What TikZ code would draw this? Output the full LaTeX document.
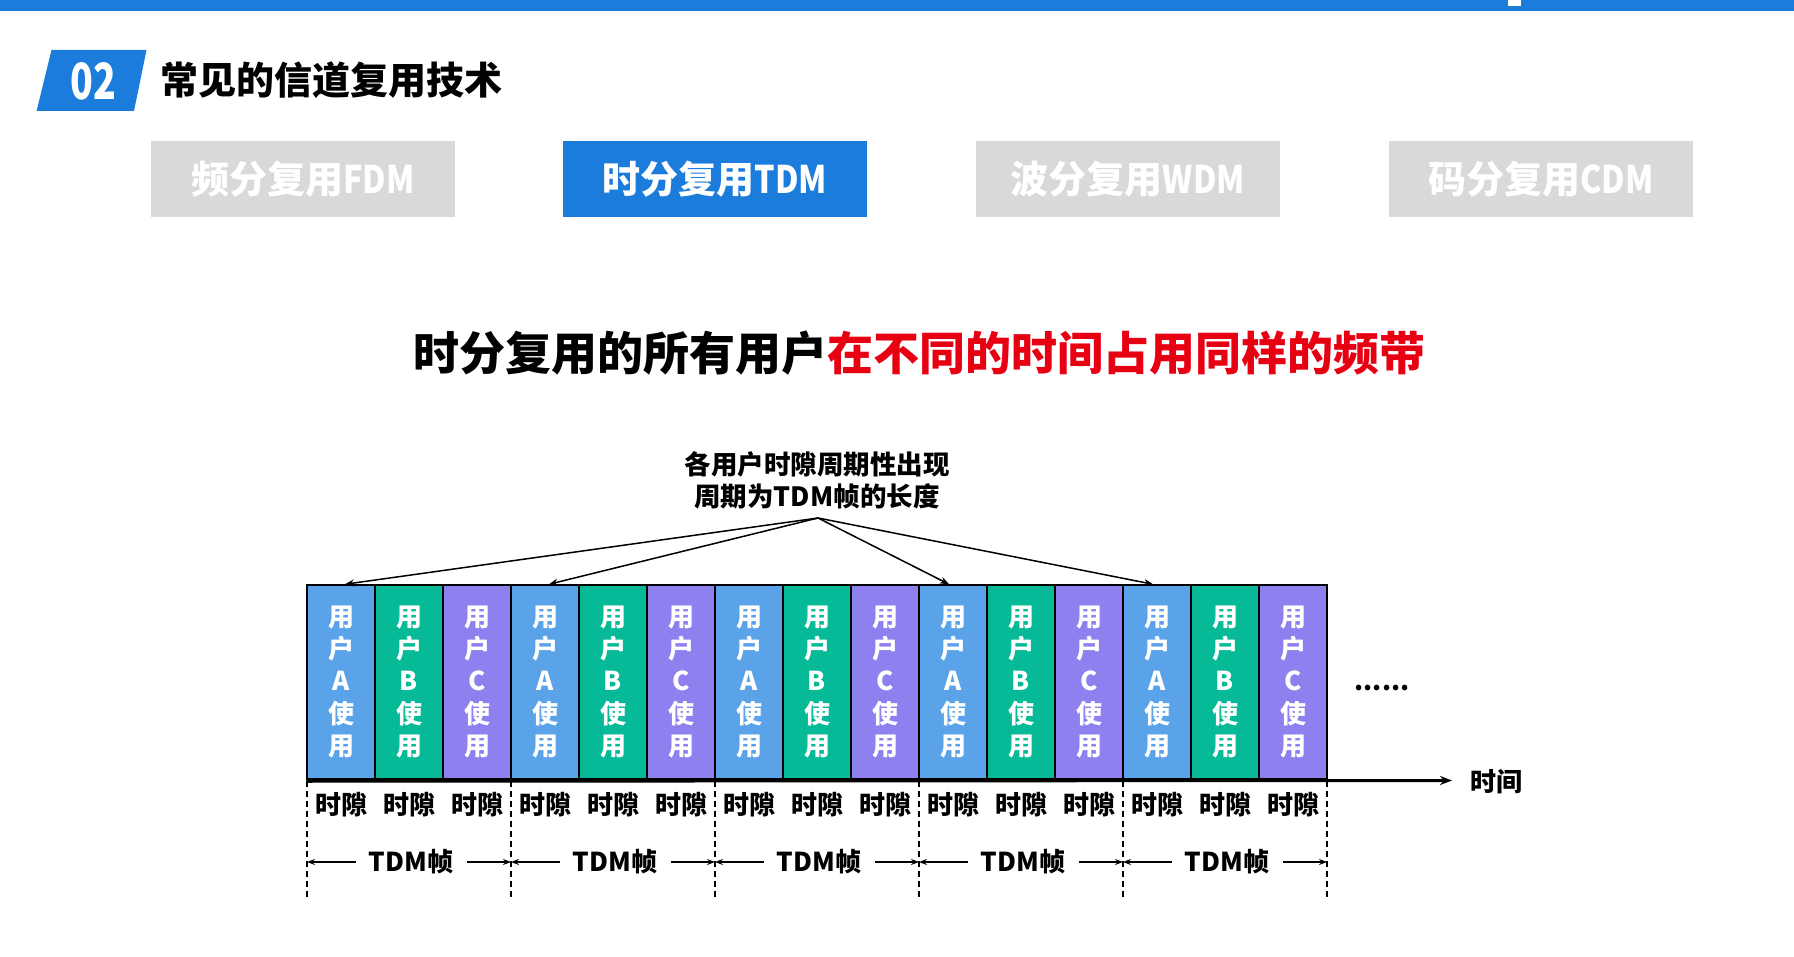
\documentclass[tikz,border=0pt]{standalone}
\usepackage{fontspec}
\setmainfont{Noto Sans CJK SC}
\usetikzlibrary{arrows.meta}
\definecolor{barblue}{HTML}{1C7CDB}
\definecolor{tabgray}{HTML}{D9D9D9}
\definecolor{colA}{HTML}{5BA3E8}
\definecolor{colB}{HTML}{06BA98}
\definecolor{colC}{HTML}{8E80EE}
\definecolor{hred}{HTML}{E60012}
\tikzset{
  tab/.style={minimum width=304pt, minimum height=76pt, inner sep=0pt, text=white,
    font=\bfseries\fontsize{38}{40}\selectfont},
  slot/.style={draw=black, line width=1.5pt, minimum width=68pt, minimum height=194pt,
    inner sep=0pt, text=white, align=center, font=\bfseries\fontsize{26}{32.3}\selectfont},
  lbl/.style={inner sep=0pt, font=\bfseries\fontsize{26}{30}\selectfont},
  ptr/.style={line width=1.5pt, -{Stealth[length=9pt,width=7pt]}},
  frm/.style={line width=1.3pt, -{Stealth[length=8pt,width=6pt]}},
  sep/.style={line width=1.4pt, dash pattern=on 6pt off 4pt}
}
\begin{document}
\begin{tikzpicture}[x=1pt,y=-1pt]
\useasboundingbox (0,0) rectangle (1794,957);
% top bar
\fill[barblue] (0,0) rectangle (1794,11);
\fill[white] (1508,0) rectangle (1521,6);
% section badge
\fill[barblue] (51.5,50) -- (146.5,50) -- (134,111) -- (36.6,111) -- cycle;
\node[text=white, inner sep=0pt, font=\bfseries\fontsize{50}{52}\selectfont] (num) at (93,81) {\scalebox{0.75}[1]{02}};
\node[anchor=west, inner sep=0pt, font=\bfseries\fontsize{38}{40}\selectfont] (title) at (160,80) {常见的信道复用技术};
% tabs
\node[tab, fill=tabgray] (fdm) at (303,179) {频分复用\scalebox{0.85}[1]{FDM}};
\node[tab, fill=barblue] (tdm) at (715,179) {时分复用\scalebox{0.85}[1]{TDM}};
\node[tab, fill=tabgray] (wdm) at (1128,179) {波分复用\scalebox{0.85}[1]{WDM}};
\node[tab, fill=tabgray] (cdm) at (1541,179) {码分复用\scalebox{0.85}[1]{CDM}};
% heading
\node[inner sep=0pt, font=\bfseries\fontsize{46}{50}\selectfont] (head) at (919,353) {时分复用的所有用户\textcolor{hred}{在不同的时间占用同样的频带}};
% annotation
\node[align=center, inner sep=0pt, font=\bfseries\fontsize{26.5}{32}\selectfont] (note) at (817,480) {各用户时隙周期性出现\\周期为TDM帧的长度};
\coordinate (apex) at (818,518);
% slots
\foreach \i in {1,...,15} {
  \pgfmathtruncatemacro{\k}{mod(\i-1,3)}
  \pgfmathsetmacro{\cx}{307+68*(\i-1)+34}
  \ifcase\k
    \node[slot, fill=colA] (c\i) at (\cx,682) {用\\户\\A\\使\\用};
  \or
    \node[slot, fill=colB] (c\i) at (\cx,682) {用\\户\\B\\使\\用};
  \or
    \node[slot, fill=colC] (c\i) at (\cx,682) {用\\户\\C\\使\\用};
  \fi
  \node[lbl] (t\i) at (\cx,805) {时隙};
}
% pointer arrows
\draw[ptr] (apex) -- ([xshift=4pt]c1.north);
\draw[ptr] (apex) -- ([xshift=4pt]c4.north);
\draw[ptr] (apex) -- ([xshift=-4pt]c10.north);
\draw[ptr] (apex) -- ([xshift=-4pt]c13.north);
% time axis
\coordinate (axend) at (1452,780.5);
\draw[line width=3pt, -{Stealth[length=12pt,width=9pt]}] ([yshift=-1.5pt]c1.south west) -- (axend);
\node[lbl, anchor=west] (timelbl) at (1470,781.5) {时间};
\node[inner sep=0pt, anchor=base, font=\bfseries\fontsize{26}{30}\selectfont] (dots) at (1382,690) {......};
% frame separators and TDM frame labels
\foreach \j in {0,...,5} {
  \coordinate (s\j) at (307+204*\j,781);
  \coordinate (e\j) at (307+204*\j,900);
  \draw[sep] (s\j) -- (e\j);
}
\foreach \j in {0,...,4} {
  \pgfmathsetmacro{\L}{307+204*\j}
  \pgfmathsetmacro{\R}{\L+204}
  \pgfmathsetmacro{\M}{\L+102}
  \coordinate (la\j) at (\L+49,862);
  \coordinate (lb\j) at (\L,862);
  \coordinate (ra\j) at (\R-44,862);
  \coordinate (rb\j) at (\R,862);
  \node[lbl] (f\j) at (\M+2,862) {TDM帧};
  \draw[frm] (la\j) -- (lb\j);
  \draw[frm] (ra\j) -- (rb\j);
}
\end{tikzpicture}
\end{document}
